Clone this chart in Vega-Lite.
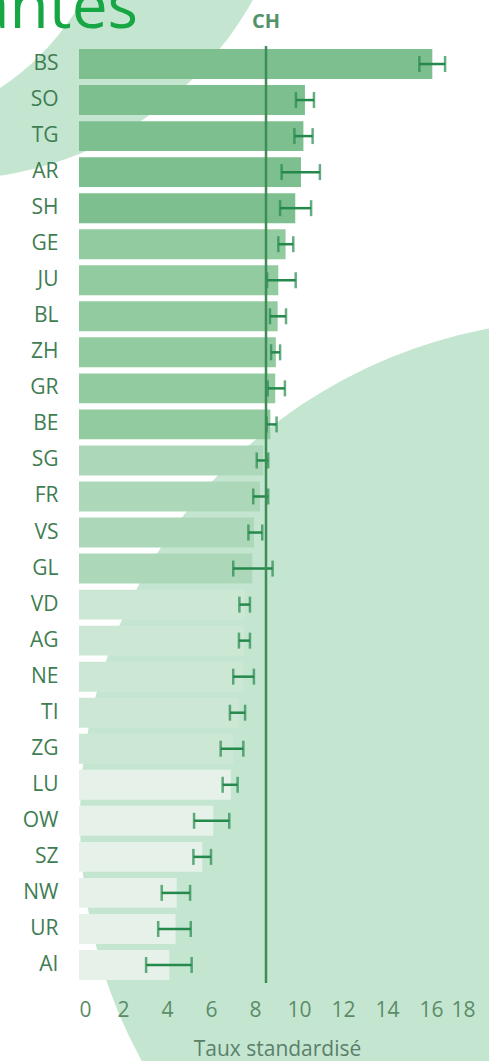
{
  "$schema": "https://vega.github.io/schema/vega-lite/v6.json",
  "width": 396,
  "height": 937,
  "autosize": "none",
  "padding": {"left": 79, "top": 46, "right": 14, "bottom": 78},
  "background": "white",
  "config": {
    "view": {"stroke": null},
    "font": "Open Sans"
  },
  "datasets": {
    "taux": [
      {"canton": "BS", "taux": 16.06, "bas": 15.47, "haut": 16.64, "groupe": 1},
      {"canton": "SO", "taux": 10.27, "bas": 9.86, "haut": 10.68, "groupe": 1},
      {"canton": "TG", "taux": 10.2, "bas": 9.79, "haut": 10.62, "groupe": 1},
      {"canton": "AR", "taux": 10.09, "bas": 9.21, "haut": 10.95, "groupe": 1},
      {"canton": "SH", "taux": 9.83, "bas": 9.14, "haut": 10.55, "groupe": 1},
      {"canton": "GE", "taux": 9.39, "bas": 9.06, "haut": 9.74, "groupe": 2},
      {"canton": "JU", "taux": 9.06, "bas": 8.55, "haut": 9.85, "groupe": 2},
      {"canton": "BL", "taux": 9.03, "bas": 8.68, "haut": 9.41, "groupe": 2},
      {"canton": "ZH", "taux": 8.95, "bas": 8.73, "haut": 9.14, "groupe": 2},
      {"canton": "GR", "taux": 8.92, "bas": 8.58, "haut": 9.36, "groupe": 2},
      {"canton": "BE", "taux": 8.7, "bas": 8.53, "haut": 8.98, "groupe": 2},
      {"canton": "SG", "taux": 8.38, "bas": 8.08, "haut": 8.6, "groupe": 3},
      {"canton": "FR", "taux": 8.23, "bas": 7.92, "haut": 8.6, "groupe": 3},
      {"canton": "VS", "taux": 7.95, "bas": 7.7, "haut": 8.33, "groupe": 3},
      {"canton": "GL", "taux": 7.88, "bas": 7.01, "haut": 8.8, "groupe": 3},
      {"canton": "VD", "taux": 7.55, "bas": 7.29, "haut": 7.77, "groupe": 4},
      {"canton": "AG", "taux": 7.5, "bas": 7.27, "haut": 7.77, "groupe": 4},
      {"canton": "NE", "taux": 7.47, "bas": 7.01, "haut": 7.95, "groupe": 4},
      {"canton": "TI", "taux": 7.24, "bas": 6.86, "haut": 7.55, "groupe": 4},
      {"canton": "ZG", "taux": 7.01, "bas": 6.44, "haut": 7.47, "groupe": 4},
      {"canton": "LU", "taux": 6.9, "bas": 6.53, "haut": 7.21, "groupe": 5},
      {"canton": "OW", "taux": 6.1, "bas": 5.23, "haut": 6.83, "groupe": 5},
      {"canton": "SZ", "taux": 5.6, "bas": 5.2, "haut": 6.0, "groupe": 5},
      {"canton": "NW", "taux": 4.44, "bas": 3.76, "haut": 5.05, "groupe": 5},
      {"canton": "UR", "taux": 4.39, "bas": 3.6, "haut": 5.08, "groupe": 5},
      {"canton": "AI", "taux": 4.1, "bas": 3.05, "haut": 5.12, "groupe": 5}
    ],
    "reference": [{"ref": "CH", "valeur": 8.5}],
    "titre": [{"texte": "antes"}]
  },
  "resolve": {"scale": {"y": "independent"}, "axis": {"y": "independent"}},
  "layer": [
    {
      "data": {"name": "titre"},
      "encoding": {
        "y": {"datum": 0, "type": "quantitative", "scale": {"domain": [0, 26], "reverse": true, "nice": false, "zero": false}, "axis": null}
      },
      "layer": [
        {
          "mark": {"type": "point", "shape": "circle", "filled": true, "size": 490000, "color": "#c4e6d1", "opacity": 1, "clip": false},
          "encoding": {
            "x": {"datum": -6.0, "type": "quantitative"},
            "y": {"datum": -6.0, "type": "quantitative"}
          }
        },
        {
          "mark": {"type": "point", "shape": "circle", "filled": true, "size": 270000, "color": "#ffffff", "opacity": 1, "clip": false},
          "encoding": {
            "x": {"datum": -10.1, "type": "quantitative"},
            "y": {"datum": -4.85, "type": "quantitative"}
          }
        },
        {
          "mark": {"type": "point", "shape": "circle", "filled": true, "size": 1000000, "color": "#c4e6d1", "opacity": 1, "clip": false},
          "encoding": {
            "x": {"datum": 22.77, "type": "quantitative"},
            "y": {"datum": 21.48, "type": "quantitative"}
          }
        },
        {
          "mark": {"type": "text", "align": "left", "baseline": "alphabetic", "fontSize": 64, "font": "Open Sans", "color": "#16a644", "clip": false},
          "encoding": {
            "x": {"datum": -4.77, "type": "quantitative"},
            "y": {"datum": -0.5, "type": "quantitative"},
            "text": {"field": "texte"}
          }
        }
      ]
    },
    {
      "data": {"name": "taux"},
      "encoding": {
        "y": {
          "field": "canton",
          "type": "nominal",
          "sort": null,
          "scale": {
            "domain": ["BS", "SO", "TG", "AR", "SH", "GE", "JU", "BL", "ZH", "GR", "BE", "SG", "FR", "VS", "GL", "VD", "AG", "NE", "TI", "ZG", "LU", "OW", "SZ", "NW", "UR", "AI"],
            "paddingInner": 0.17,
            "paddingOuter": 0.085
          },
          "axis": {
            "title": null,
            "domain": false,
            "ticks": false,
            "labelFontSize": 21,
            "labelColor": "#3f7d52",
            "labelPadding": 21,
            "zindex": 2
          }
        }
      },
      "layer": [
        {
          "mark": {"type": "bar"},
          "encoding": {
            "x": {
              "field": "taux",
              "type": "quantitative",
              "scale": {"domain": [0, 18], "nice": false},
              "axis": {
                "title": "Taux standardisé",
                "values": [0, 2, 4, 6, 8, 10, 12, 14, 16, 18],
                "domain": false,
                "ticks": false,
                "grid": false,
                "labelFontSize": 21,
                "labelColor": "#5b8c68",
                "labelPadding": 16,
                "titleFontSize": 21,
                "titleFontWeight": "normal",
                "titleColor": "#5b8069",
                "titlePadding": 18,
                "zindex": 2
              }
            },
            "color": {
              "field": "groupe",
              "type": "ordinal",
              "scale": {"domain": [1, 2, 3, 4, 5], "range": ["#7dbf8e", "#93cba1", "#acd7b8", "#cce7d4", "#e6f2e9"]},
              "legend": null
            }
          }
        },
        {
          "mark": {"type": "rule", "color": "#24894b", "strokeWidth": 2.5},
          "encoding": {
            "x": {"field": "bas", "type": "quantitative"},
            "x2": {"field": "haut"}
          }
        },
        {
          "mark": {"type": "tick", "orient": "vertical", "color": "#24894b", "thickness": 2.5, "size": 16},
          "encoding": {
            "x": {"field": "bas", "type": "quantitative"}
          }
        },
        {
          "mark": {"type": "tick", "orient": "vertical", "color": "#24894b", "thickness": 2.5, "size": 16},
          "encoding": {
            "x": {"field": "haut", "type": "quantitative"}
          }
        },
        {
          "data": {"name": "reference"},
          "mark": {"type": "rule", "color": "#3e8d57", "strokeWidth": 2.5},
          "encoding": {
            "x": {"field": "valeur", "type": "quantitative"},
            "y": null
          }
        },
        {
          "data": {"name": "reference"},
          "mark": {"type": "text", "color": "#52936a", "fontSize": 20, "fontWeight": "bold", "dy": -42, "font": "Open Sans"},
          "encoding": {
            "x": {"field": "valeur", "type": "quantitative"},
            "y": {"datum": "BS"},
            "text": {"field": "ref"}
          }
        }
      ]
    }
  ]
}
